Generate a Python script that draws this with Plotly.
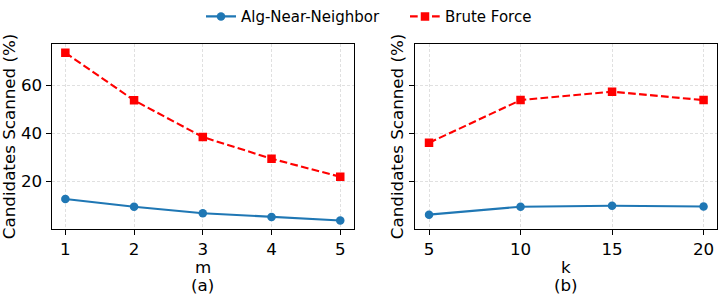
import plotly.graph_objects as go

# Data
m_vals = [1, 2, 3, 4, 5]
alg_m = [12.8, 9.6, 6.9, 5.3, 3.9]
brute_m = [73.4, 53.7, 38.5, 29.5, 22.0]

k_vals = [5, 10, 15, 20]
alg_k = [6.3, 9.6, 10.0, 9.7]
brute_k = [36.1, 53.8, 57.3, 53.8]

y_ticks = [20, 40, 60]
series_names = ["Alg-Near-Neighbor", "Brute Force"]

BLUE = "#1f77b4"
RED = "#ff0000"
FONT = "DejaVu Sans"
DASH = "7.7px,3.3px"
FS = 16.7
LFS = 15

W, H = 718, 294

fig = go.Figure()

fig.add_trace(go.Scatter(x=m_vals, y=alg_m, mode="lines+markers", name=series_names[0],
                         line=dict(color=BLUE, width=2.1), marker=dict(symbol="circle", size=8.5, color=BLUE),
                         xaxis="x", yaxis="y", legendgroup="a"))
fig.add_trace(go.Scatter(x=m_vals, y=brute_m, mode="lines+markers", name=series_names[1],
                         line=dict(color=RED, width=2.1, dash=DASH), marker=dict(symbol="square", size=8.5, color=RED),
                         xaxis="x", yaxis="y", legendgroup="b"))
fig.add_trace(go.Scatter(x=k_vals, y=alg_k, mode="lines+markers", name=series_names[0],
                         line=dict(color=BLUE, width=2.1), marker=dict(symbol="circle", size=8.5, color=BLUE),
                         xaxis="x2", yaxis="y2", showlegend=False, legendgroup="a"))
fig.add_trace(go.Scatter(x=k_vals, y=brute_k, mode="lines+markers", name=series_names[1],
                         line=dict(color=RED, width=2.1, dash=DASH), marker=dict(symbol="square", size=8.5, color=RED),
                         xaxis="x2", yaxis="y2", showlegend=False, legendgroup="b"))

def px_x(p):
    return p / W

def px_y(p):
    return 1 - p / H

ydom = [px_y(227.3), px_y(38.3)]
axis_common = dict(showline=True, mirror=True, linecolor="black", linewidth=1.1,
                   ticks="outside", ticklen=5, tickwidth=1.1, tickcolor="black",
                   showgrid=True, gridcolor="#e0e0e0", griddash="3px,2px", gridwidth=0.8,
                   zeroline=False, tickfont=dict(family=FONT, size=FS, color="black"))

yrange = [0.4, 76.9]

fig.update_layout(
    width=W, height=H,
    margin=dict(l=0, r=0, t=0, b=0),
    paper_bgcolor="white", plot_bgcolor="white",
    font=dict(family=FONT, size=FS, color="black"),
    xaxis=dict(domain=[px_x(51.6), px_x(354)], range=[0.8, 5.2], tickvals=m_vals, anchor="y", **axis_common),
    yaxis=dict(domain=ydom, range=yrange, tickvals=y_ticks, anchor="x", **axis_common),
    xaxis2=dict(domain=[px_x(415.3), px_x(717.3)], range=[4.25, 20.75], tickvals=k_vals, anchor="y2", **axis_common),
    yaxis2=dict(domain=ydom, range=yrange, tickvals=y_ticks, anchor="x2", showticklabels=False, **axis_common),
    legend=dict(orientation="h", x=px_x(201), xanchor="left", y=1 + 7 / H, yanchor="top",
                font=dict(family=FONT, size=LFS, color="black"), entrywidth=159, entrywidthmode="pixels",
                bgcolor="rgba(0,0,0,0)", tracegroupgap=0),
    showlegend=True,
)

annotations = [
    dict(text="Candidates Scanned (%)", x=px_x(8.5), y=(ydom[0] + ydom[1]) / 2, textangle=-90),
    dict(text="Candidates Scanned (%)", x=px_x(396.5), y=(ydom[0] + ydom[1]) / 2, textangle=-90),
    dict(text="m", x=px_x(202.8), y=px_y(266)),
    dict(text="(a)", x=px_x(202.8), y=px_y(285)),
    dict(text="k", x=px_x(566.3), y=px_y(266)),
    dict(text="(b)", x=px_x(566.3), y=px_y(285)),
]
for a in annotations:
    fig.add_annotation(xref="paper", yref="paper", showarrow=False, xanchor="center", yanchor="middle",
                       font=dict(family=FONT, size=FS, color="black"), **a)

fig.write_html("out.html", config={"displayModeBar": False},
               post_script="document.body.style.margin='0';document.body.style.overflow='hidden';")
